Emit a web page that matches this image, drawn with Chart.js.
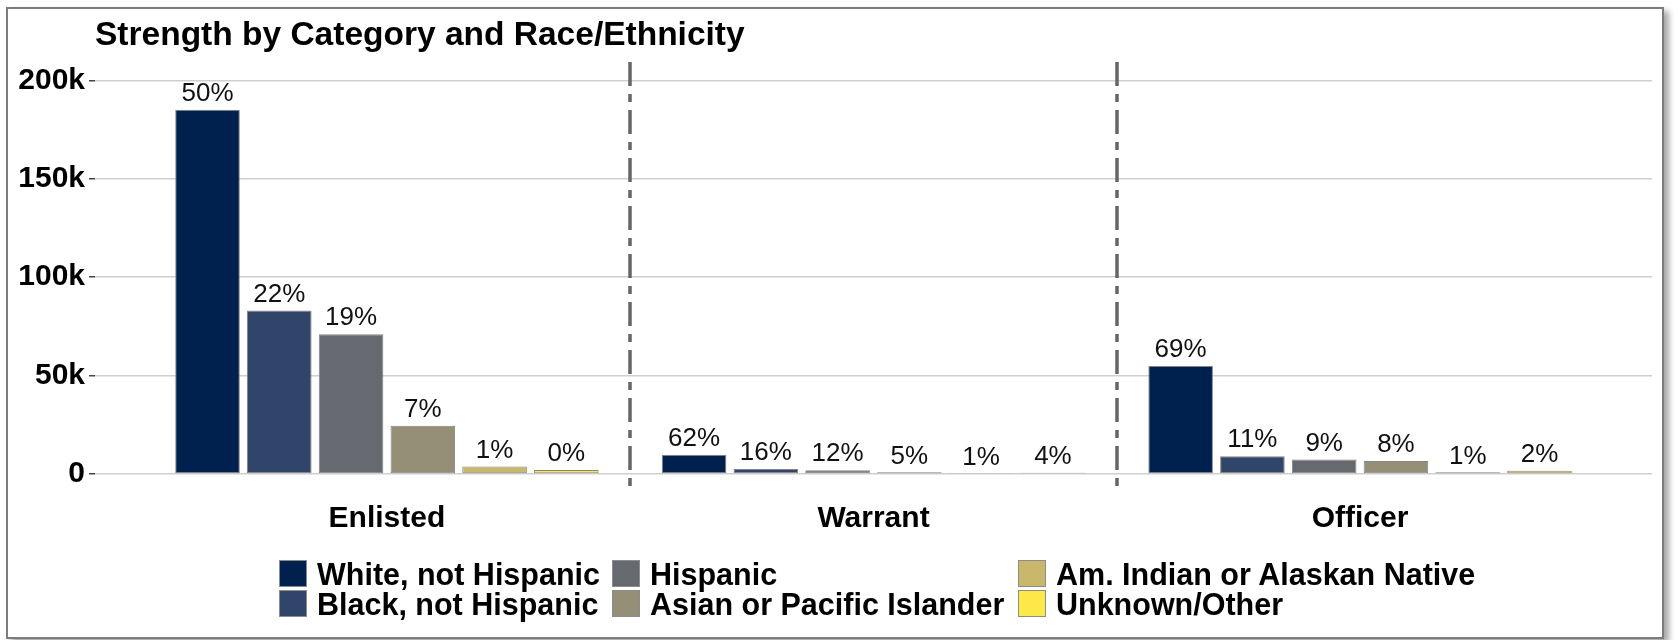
<!DOCTYPE html>
<html>
<head>
<meta charset="utf-8">
<script src="https://cdn.jsdelivr.net/npm/chart.js@4.4.1/dist/chart.umd.min.js"></script>
<style>
    body { margin: 0; background: #fff; font-family: 'Liberation Sans', Arial, sans-serif; }
    #wrap { position: relative; width: 1678px; height: 640px; }
    #frame {
        position: absolute; left: 6px; top: 7px; width: 1654px; height: 628px;
        border: 2px solid #7c7c7c; box-shadow: 5px 4px 6px rgba(0, 0, 0, 0.35); background: #fff;
    }
    #chart { position: absolute; left: 0; top: 0; }
    .key { position: absolute; width: 28px; height: 27px; box-sizing: border-box; border: 1px solid #8c8c8c; }
    .lbl { position: absolute; font-weight: bold; font-size: 30.5px; line-height: 27px; color: #000; white-space: nowrap; }
</style>
</head>
<body>
<div id="wrap">
    <div id="frame"></div>
    <canvas id="chart" width="1678" height="640"></canvas>
    <div id="legend"></div>
</div>
<script>
// Data
const title = 'Strength by Category and Race/Ethnicity';
const categories = ['Enlisted', 'Warrant', 'Officer'];
const groups = ['White, not Hispanic', 'Black, not Hispanic', 'Hispanic', 'Asian or Pacific Islander', 'Am. Indian or Alaskan Native', 'Unknown/Other'];
const colors = ['#00204e', '#31446a', '#666970', '#958f78', '#c9b86b', '#fde84a'];
const yTicks = [0, 50000, 100000, 150000, 200000];
const yTickLabels = ['0', '50k', '100k', '150k', '200k'];

// values per group: [Enlisted, Warrant, Officer]
const white = [185000, 9800, 54900];
const black = [83000, 2500, 9000];
const hispanic = [71000, 1900, 7300];
const asian = [24500, 800, 6600];
const amIndian = [3800, 160, 800];
const unknown = [2000, 630, 1600];
const values = [white, black, hispanic, asian, amIndian, unknown];

// percentage labels per group: [Enlisted, Warrant, Officer]
const pctWhite = ['50%', '62%', '69%'];
const pctBlack = ['22%', '16%', '11%'];
const pctHispanic = ['19%', '12%', '9%'];
const pctAsian = ['7%', '5%', '8%'];
const pctAmIndian = ['1%', '1%', '1%'];
const pctUnknown = ['0%', '4%', '2%'];
const pcts = [pctWhite, pctBlack, pctHispanic, pctAsian, pctAmIndian, pctUnknown];

const FONT = "'Liberation Sans', Arial, sans-serif";

// title, dash-dot separators and bar labels
const extras = {
    id: 'extras',
    afterDatasetsDraw(chart) {
        const ctx = chart.ctx;
        const x = chart.scales.x;
        const area = chart.chartArea;
        ctx.save();
        // separators between categories
        ctx.strokeStyle = '#666';
        ctx.lineWidth = 3.5;
        ctx.setLineDash([24, 8, 8, 8]);
        for (let i = 0; i < categories.length - 1; i++) {
            const px = Math.round(x.getPixelForValue(i + 0.5));
            ctx.beginPath();
            ctx.moveTo(px, area.top);
            ctx.lineTo(px, area.bottom);
            ctx.stroke();
        }
        ctx.setLineDash([]);
        // percentage labels
        ctx.fillStyle = '#111';
        ctx.font = '26px ' + FONT;
        ctx.textAlign = 'center';
        ctx.textBaseline = 'bottom';
        chart.data.datasets.forEach((ds, d) => {
            chart.getDatasetMeta(d).data.forEach((bar, i) => {
                ctx.fillText(pcts[d][i], bar.x, bar.y - 3);
            });
        });
        // title
        ctx.fillStyle = '#000';
        ctx.font = 'bold 33.5px ' + FONT;
        ctx.textAlign = 'left';
        ctx.textBaseline = 'middle';
        ctx.fillText(title, 95, 36);
        ctx.restore();
    },
};

new Chart('chart', {
    type: 'bar',
    plugins: [extras],
    data: {
        datasets: groups.map((g, d) => ({
            label: g,
            data: values[d].map((v, i) => ({ x: i, y: v })),
            backgroundColor: colors[d],
            borderColor: 'rgba(125, 125, 125, 0.95)',
            borderWidth: 1,
            borderSkipped: false,
            categoryPercentage: 0.885,
            barPercentage: 0.9,
        })),
    },
    options: {
        responsive: false,
        animation: false,
        layout: { padding: { top: 62, right: 26, left: 0, bottom: 0 } },
        plugins: { legend: { display: false }, tooltip: { enabled: false } },
        scales: {
            x: {
                type: 'linear',
                offset: false,
                min: -0.6,
                max: categories.length - 0.4,
                afterBuildTicks: (s) => { s.ticks = categories.map((c, i) => ({ value: i })); },
                afterFit: (s) => { s.height = 146; },
                grid: { display: false, drawTicks: false, offset: false },
                border: { display: false },
                ticks: {
                    padding: 7,
                    color: '#000',
                    font: { family: FONT, size: 30, weight: 'bold' },
                    callback: (v) => categories[v],
                },
            },
            y: {
                min: -10200,
                max: 209300,
                afterBuildTicks: (s) => { s.ticks = yTicks.map((v) => ({ value: v })); },
                afterFit: (s) => { s.width = 95; },
                grid: { color: '#cfcfcf', lineWidth: 1.5, tickColor: '#444', tickLength: 6 },
                border: { display: false },
                ticks: {
                    padding: 4,
                    color: '#000',
                    font: { family: FONT, size: 30, weight: 'bold' },
                    callback: (v) => yTickLabels[yTicks.indexOf(v)],
                },
            },
        },
    },
});

// legend: 3 columns x 2 rows
const legend = document.getElementById('legend');
const colLeft = [279, 612, 1018];
const rowTop = [560, 590];
groups.forEach((g, d) => {
    const col = Math.floor(d / 2);
    const row = d % 2;
    const key = document.createElement('div');
    key.className = 'key';
    key.style.left = colLeft[col] + 'px';
    key.style.top = rowTop[row] + 'px';
    key.style.background = colors[d];
    const lbl = document.createElement('div');
    lbl.className = 'lbl';
    lbl.textContent = g;
    lbl.style.left = colLeft[col] + 38 + 'px';
    lbl.style.top = rowTop[row] + 1 + 'px';
    legend.appendChild(key);
    legend.appendChild(lbl);
});
</script>
</body>
</html>
